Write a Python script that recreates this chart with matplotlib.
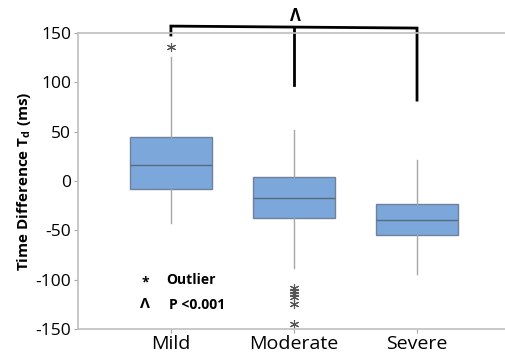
import matplotlib
matplotlib.use("Agg")
import matplotlib.pyplot as plt

plt.rcParams['font.family'] = ['Open Sans', 'DejaVu Sans']
plt.rcParams['axes.unicode_minus'] = False

categories = ["Mild", "Moderate", "Severe"]
whislo = [-43, -88.5, -94.5]
q1 = [-8, -37, -55]
med = [16, -17, -40]
q3 = [45, 4, -23]
whishi = [126, 52, 21]
fliers = [[136], [-108, -111.5, -115, -118, -124.7, -145], []]
yticks = [-150, -100, -50, 0, 50, 100, 150]

# significance bracket (data units)
bracket_top_left = 157
bracket_top_right = 155
bracket_drops = [148, 97, 82]

fig = plt.figure(figsize=(5.05, 3.54), dpi=100)
ax = fig.add_axes([78/505, 1-329/354, 1-78/505, (329-33)/354])

stats = []
for i, c in enumerate(categories):
    stats.append(dict(label=c, whislo=whislo[i], q1=q1[i], med=med[i], q3=q3[i],
                      whishi=whishi[i], fliers=fliers[i]))

ax.bxp(stats, positions=[1, 2, 3], widths=0.667, patch_artist=True, showcaps=False,
       boxprops=dict(facecolor='#7BA7DA', edgecolor='#6F8299', linewidth=1.0),
       medianprops=dict(color='#5A6B80', linewidth=1.0),
       whiskerprops=dict(color='#A6A6A6', linewidth=1.0),
       flierprops=dict(marker=(6, 2, 0), markeredgecolor='#555555', markerfacecolor='none',
                       markersize=6.5, markeredgewidth=0.8, linestyle='none'))

ax.set_xlim(0.245, 3.715)
ax.set_ylim(-150, 150)
ax.set_yticks(yticks)
ax.set_xticks([1, 2, 3])
ax.set_xticklabels(categories, fontsize=14)
ax.tick_params(axis='y', labelsize=12.5, length=3, color='#A6A6A6', pad=2)
ax.tick_params(axis='x', length=3, color='#A6A6A6', pad=1)
for s in ['left', 'bottom', 'top']:
    ax.spines[s].set_color('#BFBFBF')
    ax.spines[s].set_linewidth(1.2)
ax.spines['right'].set_visible(False)

ax.set_ylabel(r"Time Difference T$_\mathregular{d}$ (ms)", fontsize=11, fontweight='bold')
ax.yaxis.set_label_coords(-(78-33)/427, 0.5)

# bracket
lw = 2.0
ax.plot([1, 1, 2, 3, 3], [bracket_drops[0], bracket_top_left,
        (bracket_top_left + bracket_top_right) / 2, bracket_top_right, bracket_drops[2]],
        color='black', lw=lw, clip_on=False, solid_joinstyle='miter')
ax.plot([2, 2], [(bracket_top_left + bracket_top_right) / 2, bracket_drops[1]],
        color='black', lw=lw, clip_on=False)
ax.text(2.01, 158, "Λ", ha='center', va='bottom', fontsize=12, fontweight='bold')

# legend-like annotation
fig.text(145/505, 1-282/354, "*", ha='center', va='center', fontsize=10, fontweight='bold')
fig.text(166/505, 1-280/354, "Outlier", ha='left', va='center', fontsize=10, fontweight='bold')
fig.text(145/505, 1-304/354, "Λ", ha='center', va='center', fontsize=11, fontweight='bold')
fig.text(169/505, 1-305/354, "P <0.001", ha='left', va='center', fontsize=10, fontweight='bold')

fig.savefig("out.png", dpi=100)
